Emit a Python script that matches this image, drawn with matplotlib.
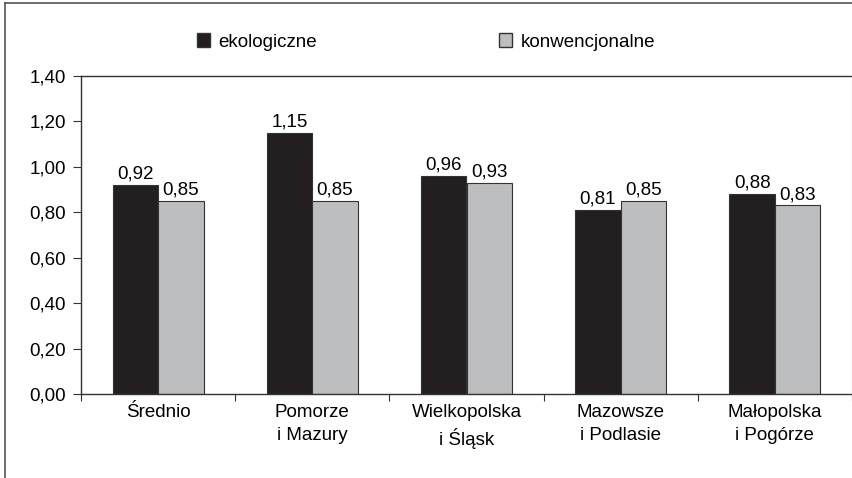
import matplotlib
matplotlib.use("Agg")
import matplotlib.pyplot as plt
from matplotlib.lines import Line2D
from matplotlib.patches import Patch
import numpy as np

plt.rcParams['font.family'] = ['Liberation Sans', 'DejaVu Sans']

regiony = ["Średnio", "Pomorze\ni Mazury", "Wielkopolska\ni Śląsk",
           "Mazowsze\ni Podlasie", "Małopolska\ni Pogórze"]
ekologiczne = [0.92, 1.15, 0.96, 0.81, 0.88]
konwencjonalne = [0.85, 0.85, 0.93, 0.85, 0.83]
yticks = [0.0, 0.2, 0.4, 0.6, 0.8, 1.0, 1.2, 1.4]

c_eko = "#231f20"
c_konw = "#bcbec0"
fs = 13.5

fig = plt.figure(figsize=(8.53, 4.78), dpi=100)
ax = fig.add_axes([81/853, 84/478, 771/853, 318/478])

x = np.arange(len(regiony)) + 0.5
w = 0.295
b1 = ax.bar(x - w/2, ekologiczne, w, color=c_eko, edgecolor="#333333", linewidth=0.8)
b2 = ax.bar(x + w/2, konwencjonalne, w, color=c_konw, edgecolor="#333333", linewidth=0.8)

for xi, v in zip(x - w/2, ekologiczne):
    ax.text(xi, v + 0.01, ("%.2f" % v).replace(".", ","), ha="center", va="bottom", fontsize=fs)
for xi, v in zip(x + w/2, konwencjonalne):
    ax.text(xi, v + 0.01, ("%.2f" % v).replace(".", ","), ha="center", va="bottom", fontsize=fs)

ax.set_xlim(0, len(regiony))
ax.set_ylim(0, 1.4)
ax.set_yticks(yticks)
ax.set_yticklabels([("%.2f" % t).replace(".", ",") for t in yticks], fontsize=fs)
ax.set_xticks(np.arange(len(regiony) + 1))
ax.set_xticklabels([])
ax.set_xticks(x, minor=True)
ax.set_xticklabels(regiony, minor=True, fontsize=fs, linespacing=1.45)
ax.tick_params(axis="x", which="minor", length=0, pad=7)
ax.tick_params(axis="x", which="major", length=5, direction="out", color="#333333")
ax.tick_params(axis="y", length=6, direction="out", color="#333333", pad=5)

for s in ["left", "bottom", "top"]:
    ax.spines[s].set_color("#333333")
    ax.spines[s].set_linewidth(1.0)
ax.spines["right"].set_color("#bbbbbb")

# legenda nad wykresem
h = [Patch(facecolor=c_eko, edgecolor="#333333"), Patch(facecolor=c_konw, edgecolor="#333333")]
fig.legend(h, ["ekologiczne", "konwencjonalne"], loc="center left",
           bbox_to_anchor=(178/853, 1 - 42/478), ncol=2, frameon=False,
           fontsize=fs, handlelength=0.7, handleheight=0.7, handletextpad=0.45,
           columnspacing=9.7, borderpad=0.5)

# ramka wokol rysunku
fig.add_artist(Line2D([5/853, 5/853], [0, 1 - 3/478], transform=fig.transFigure, color="#555555", lw=1.2))
fig.add_artist(Line2D([5/853, 1], [1 - 3/478, 1 - 3/478], transform=fig.transFigure, color="#555555", lw=1.2))

fig.savefig("out.png", dpi=100)
